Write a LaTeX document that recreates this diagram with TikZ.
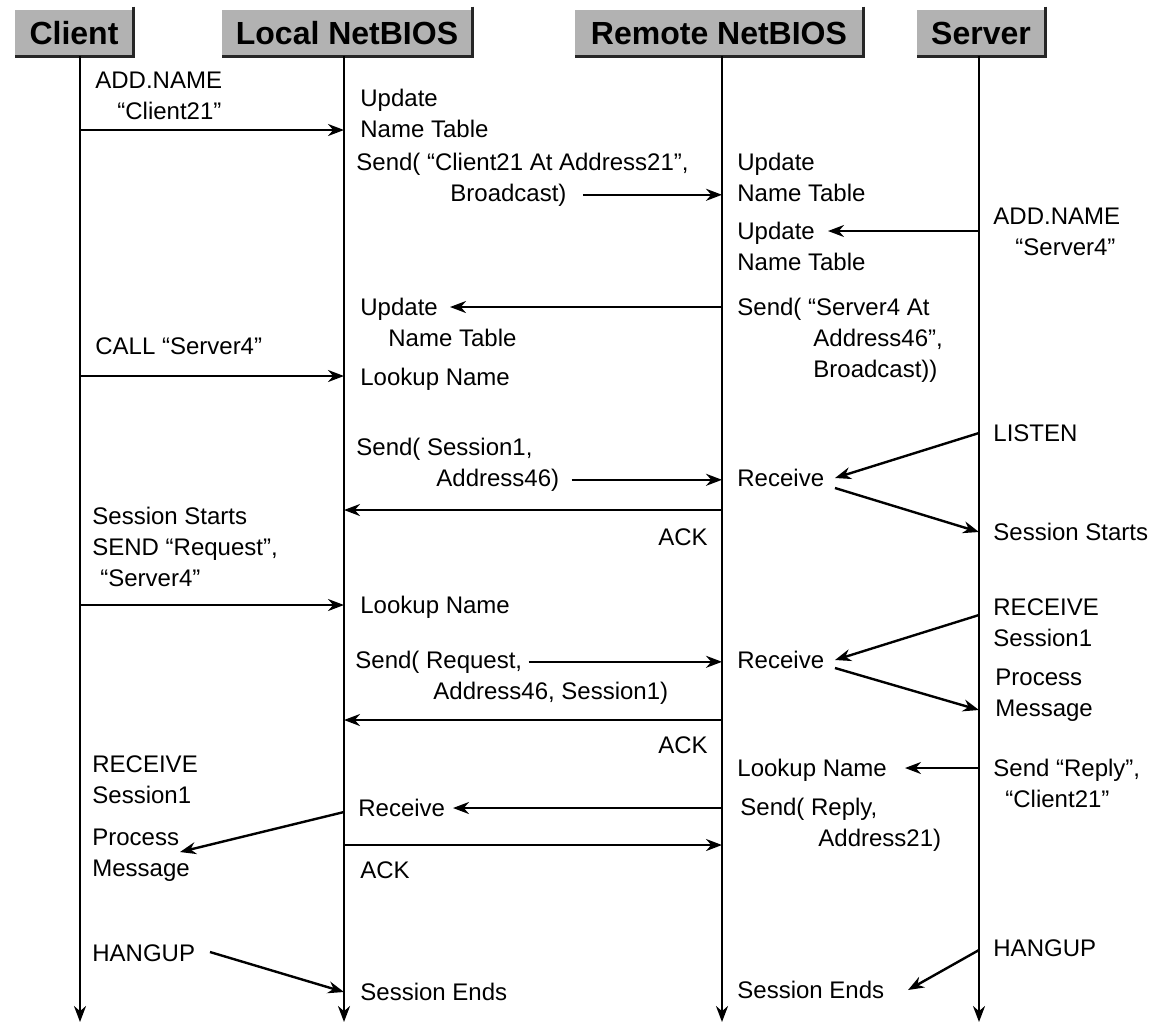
\documentclass[tikz,border=0pt]{standalone}
\usepackage{fontspec}
\setmainfont{Liberation Sans}
\usetikzlibrary{arrows.meta, positioning}
\colorlet{headgrey}{black!30!white}
\colorlet{rimgrey}{black!85!white}
\tikzset{header/.style={fill=headgrey, inner sep=0pt, minimum height=23pt, font=\fontsize{16}{16}\selectfont\bfseries}}
\tikzset{rim/.style={draw=rimgrey, line width=1.5pt}}
\tikzset{lifeline/.style={line width=1.3pt, -{Stealth[length=8pt, width=6pt]}}}
\tikzset{msg/.style={line width=1.2pt, -{Stealth[length=8pt, width=6pt]}}}
\tikzset{txt/.style={anchor=base west, inner sep=0pt, align=left, font=\fontsize{12}{15.5}\selectfont}}
\tikzset{txtr/.style={txt, anchor=base east}}

\begin{document}
\begin{tikzpicture}[x=0.5pt, y=-0.5pt]
            \useasboundingbox (0,0) rectangle (1172,1025);

            \node [header, minimum width=59pt] (Client) at (74,33) { Client };
            \node [header, minimum width=125pt] (Local) at (347,33) { Local NetBIOS };
            \node [header, minimum width=144pt] (Remote) at (719,33) { Remote NetBIOS };
            \node [header, minimum width=64pt] (Server) at (981,33) { Server };
            \foreach \h in {Client, Local, Remote, Server}
                \draw [rim] ([yshift=1.5pt]\h.north east) -- (\h.south east) -- (\h.south west);

            \coordinate (Cbot) at (80,1022);
            \coordinate (Lbot) at (344,1022);
            \coordinate (Rbot) at (722,1022);
            \coordinate (Sbot) at (979,1022);
            \foreach \h/\e in {Client/Cbot, Local/Lbot, Remote/Rbot, Server/Sbot}
                \draw [lifeline] (\h.south -| \e) -- (\e);

            % client side (y = baseline of last line)
            \node [txt] (c1) at (95,119) {ADD.NAME\\\hspace*{11pt}“Client21”};
            \node [txt] (c2) at (95,354) {CALL “Server4”};
            \node [txt] (c3) at (92,586) {Session Starts\\SEND “Request”,\\\hspace*{4pt}“Server4”};
            \node [txt] (c4) at (92,803) {RECEIVE\\Session1};
            \node [txt] (c5) at (92,876) {Process\\Message};
            \node [txt] (c6) at (92,961) {HANGUP};

            % local netbios
            \node [txt] (l1) at (360,137) {Update\\Name Table};
            \node [txt] (l2a) at (356,170) {Send( “Client21 At Address21”,};
            \node [txt] (l2b) at (450,201) {Broadcast)};
            \node [txt] (l3) at (360,346) {Update\\\hspace*{14pt}Name Table};
            \node [txt] (l4) at (360,385) {Lookup Name};
            \node [txt] (l5a) at (356,455) {Send( Session1,};
            \node [txt] (l5b) at (436,486) {Address46)};
            \node [txt] (l6) at (360,613) {Lookup Name};
            \node [txt] (l7a) at (355,668) {Send( Request,};
            \node [txt] (l7b) at (433,699) {Address46, Session1)};
            \node [txt] (l8) at (358,816) {Receive};
            \node [txt] (l9) at (360,878) {ACK};
            \node [txt] (l10) at (360,1000) {Session Ends};

            % remote netbios
            \node [txt] (r1) at (737,201) {Update\\Name Table};
            \node [txt] (r2) at (737,270) {Update\\Name Table};
            \node [txt] (r3) at (737,377) {Send( “Server4 At\\\hspace*{38pt}Address46”,\\\hspace*{38pt}Broadcast))};
            \node [txt] (r4) at (737,486) {Receive};
            \node [txtr] (r5) at (708,545) {ACK};
            \node [txt] (r6) at (737,668) {Receive};
            \node [txtr] (r7) at (708,753) {ACK};
            \node [txt] (r8) at (737,776) {Lookup Name};
            \node [txt] (r9) at (740,846) {Send( Reply,\\\hspace*{39pt}Address21)};
            \node [txt] (r10) at (737,998) {Session Ends};

            % server
            \node [txt] (s1) at (993,255) {ADD.NAME\\\hspace*{11pt}“Server4”};
            \node [txt] (s2) at (993,441) {LISTEN};
            \node [txt] (s3) at (993,540) {Session Starts};
            \node [txt] (s4) at (993,646) {RECEIVE\\Session1};
            \node [txt] (s5) at (995,716) {Process\\Message};
            \node [txt] (s6) at (993,807) {Send “Reply”,\\\hspace*{6pt}“Client21”};
            \node [txt] (s7) at (993,956) {HANGUP};

            % message ends
            \coordinate (C130) at (80,130);   \coordinate (L130) at (344,130);
            \coordinate (S231) at (979,231);  \coordinate (r2tip) at (828,231);
            \coordinate (R307) at (722,307);  \coordinate (l3tip) at (450,307);
            \coordinate (C376) at (80,376);   \coordinate (L376) at (344,376);
            \coordinate (S433) at (979,433);  \coordinate (r4in) at (835,478);
            \coordinate (r4out) at (835,488); \coordinate (S532) at (979,532);
            \coordinate (R510) at (722,510);  \coordinate (L510) at (344,510);
            \coordinate (C605) at (80,605);   \coordinate (L605) at (344,605);
            \coordinate (S615) at (979,615);  \coordinate (r6in) at (835,660);
            \coordinate (r6out) at (835,668); \coordinate (S710) at (979,710);
            \coordinate (R720) at (722,720);  \coordinate (L720) at (344,720);
            \coordinate (S768) at (979,768);  \coordinate (r8tip) at (905,768);
            \coordinate (R808) at (722,808);  \coordinate (l8tip) at (453,808);
            \coordinate (L812) at (344,812);  \coordinate (c5tip) at (180,852);
            \coordinate (L845) at (344,845);  \coordinate (R845) at (722,845);
            \coordinate (c6tail) at (210,952); \coordinate (L992) at (344,992);
            \coordinate (S950) at (979,950);  \coordinate (r10tip) at (908,990);

            \draw [msg] (C130) -- (L130);
            \draw [msg] ([xshift=8pt]l2b.east) -- (l2b.east -| Rbot);
            \draw [msg] (S231) -- (r2tip);
            \draw [msg] (R307) -- (l3tip);
            \draw [msg] (C376) -- (L376);
            \draw [msg] ([xshift=6pt]l5b.east) -- (l5b.east -| Rbot);
            \draw [msg] (S433) -- (r4in);
            \draw [msg] (r4out) -- (S532);
            \draw [msg] (R510) -- (L510);
            \draw [msg] (C605) -- (L605);
            \draw [msg] ([xshift=3pt]l7a.east) -- (l7a.east -| Rbot);
            \draw [msg] (S615) -- (r6in);
            \draw [msg] (r6out) -- (S710);
            \draw [msg] (R720) -- (L720);
            \draw [msg] (S768) -- (r8tip);
            \draw [msg] (R808) -- (l8tip);
            \draw [msg] (L812) -- (c5tip);
            \draw [msg] (L845) -- (R845);
            \draw [msg] (c6tail) -- (L992);
            \draw [msg] (S950) -- (r10tip);
        \end{tikzpicture}
\end{document}
